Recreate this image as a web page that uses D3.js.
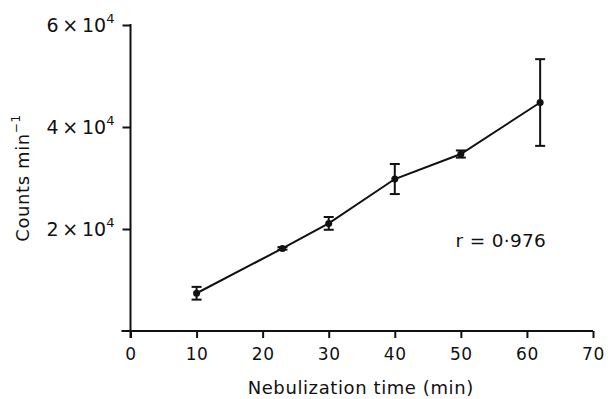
<!DOCTYPE html>
<html>
<head>
<meta charset="utf-8">
<script src="https://cdn.jsdelivr.net/npm/d3@7"></script>
<style>
  html, body { margin: 0; padding: 0; background: #fff; }
  svg text { font-family: "DejaVu Sans", Verdana, sans-serif; fill: #111; }
</style>
</head>
<body>
<div id="chart"></div>
<script>
// data
const times = [10, 23, 30, 40, 50, 62];
const counts = [7400, 16200, 21100, 29800, 34700, 44800];
const errors = [1250, 250, 1250, 2950, 700, 8500];
const xTicks = [0, 10, 20, 30, 40, 50, 60, 70];
const yTicks = [20000, 40000, 60000];
const yTickMantissa = ['2', '4', '6'];
const rLabel = 'r = 0\u00b7976';

const width = 610, height = 399;
const margin = { top: 25, right: 17, bottom: 68, left: 130.5 };

const svg = d3.select('#chart')
  .append('svg')
  .attr('width', width)
  .attr('height', height);

const x = d3.scaleLinear()
  .domain([0, 70])
  .range([margin.left, width - margin.right]);

const y = d3.scaleLinear()
  .domain([0, 60000])
  .range([height - margin.bottom, margin.top]);

const data = times.map((t, i) => ({ t: t, c: counts[i], e: errors[i] }));

// x axis
const xAxis = svg.append('g')
  .attr('transform', `translate(0, ${y(0)})`)
  .call(d3.axisBottom(x).tickValues(xTicks).tickSize(7).tickSizeOuter(0).tickPadding(6));
xAxis.select('.domain').remove();
xAxis.append('line')
  .attr('x1', x(0) - 9).attr('x2', x(70))
  .attr('stroke', '#111').attr('stroke-width', 2);
xAxis.selectAll('.tick line').attr('stroke', '#111').attr('stroke-width', 2);
xAxis.selectAll('.tick text')
  .attr('font-size', 17)
  .attr('letter-spacing', 0.6)
  .attr('font-family', '"DejaVu Sans", sans-serif')
  .attr('fill', '#111')
  .attr('dy', '0.95em');

// y axis
const yAxis = svg.append('g')
  .attr('transform', `translate(${x(0)}, 0)`)
  .call(d3.axisLeft(y).tickValues(yTicks).tickSize(8).tickSizeOuter(0).tickFormat(''));
yAxis.select('.domain').remove();
yAxis.append('line')
  .attr('y1', y(60000) - 1).attr('y2', y(0) + 7)
  .attr('stroke', '#111').attr('stroke-width', 2);
yAxis.selectAll('.tick line').attr('stroke', '#111').attr('stroke-width', 2);

// y tick labels as "n × 10^4"
yTicks.forEach((v, i) => {
  const t = svg.append('text')
    .attr('x', x(0) - 16)
    .attr('y', y(v) + 7)
    .attr('text-anchor', 'end')
    .attr('font-size', 19);
  t.append('tspan').text(yTickMantissa[i] + '\u2009\u00d7\u200910');
  t.append('tspan').attr('font-size', 13).attr('dy', -9).text('4');
});

// axis titles
svg.append('text')
  .attr('x', x(35) - 1)
  .attr('y', 394)
  .attr('text-anchor', 'middle')
  .attr('font-size', 18)
  .attr('letter-spacing', 0.6)
  .text('Nebulization time (min)');

const yTitle = svg.append('text')
  .attr('transform', 'translate(29, 178) rotate(-90)')
  .attr('text-anchor', 'middle')
  .attr('font-size', 18)
  .attr('letter-spacing', 0.6);
yTitle.append('tspan').text('Counts min');
yTitle.append('tspan').attr('font-size', 12).attr('dy', -9).text('\u22121');

// connecting line
svg.append('path')
  .datum(data)
  .attr('fill', 'none')
  .attr('stroke', '#111')
  .attr('stroke-width', 2)
  .attr('d', d3.line().x(d => x(d.t)).y(d => y(d.c)));

// error bars
const bars = svg.append('g').selectAll('g')
  .data(data)
  .enter().append('g')
  .attr('stroke', '#111')
  .attr('stroke-width', 2);
bars.append('line')
  .attr('x1', d => x(d.t)).attr('x2', d => x(d.t))
  .attr('y1', d => y(d.c + d.e)).attr('y2', d => y(d.c - d.e));
bars.append('line')
  .attr('x1', d => x(d.t) - 5).attr('x2', d => x(d.t) + 5)
  .attr('y1', d => y(d.c + d.e)).attr('y2', d => y(d.c + d.e));
bars.append('line')
  .attr('x1', d => x(d.t) - 5).attr('x2', d => x(d.t) + 5)
  .attr('y1', d => y(d.c - d.e)).attr('y2', d => y(d.c - d.e));

// points
svg.append('g').selectAll('circle')
  .data(data)
  .enter().append('circle')
  .attr('cx', d => x(d.t))
  .attr('cy', d => y(d.c))
  .attr('r', 3.5)
  .attr('fill', '#111');

// correlation label
svg.append('text')
  .attr('x', x(49.2))
  .attr('y', 247)
  .attr('font-size', 18.5)
  .attr('letter-spacing', 0.3)
  .text(rLabel);
</script>
</body>
</html>
